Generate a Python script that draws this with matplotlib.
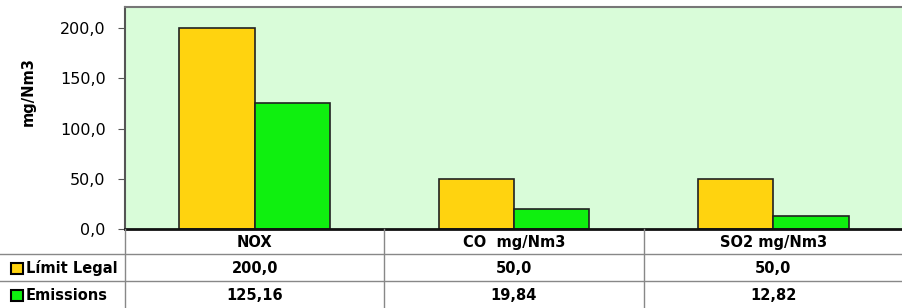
import matplotlib.pyplot as plt
import numpy as np
from matplotlib.patches import Rectangle

plt.rcParams['font.family'] = ['DejaVu Sans']

# dades
categories = ['NOX', 'CO  mg/Nm3', 'SO2 mg/Nm3']
series_names = ['Límit Legal', 'Emissions']
limit_legal = [200.0, 50.0, 50.0]
emissions = [125.16, 19.84, 12.82]
limit_labels = ['200,0', '50,0', '50,0']
emission_labels = ['125,16', '19,84', '12,82']

yellow = '#FFD30F'
green = '#0FF00F'
bg = '#D9FCD9'

W, H = 903, 308
fig = plt.figure(figsize=(W / 100, H / 100), dpi=100)

# zona del gràfic (en píxels)
left, top, bottom = 125, 7, 229
ax = fig.add_axes([left / W, (H - bottom) / H, (W - left) / W, (bottom - top) / H])
ax.set_facecolor(bg)

x = np.arange(len(categories))
w = 0.29
ax.bar(x - w / 2, limit_legal, w, color=yellow, edgecolor='#222222', linewidth=1.2)
ax.bar(x + w / 2, emissions, w, color=green, edgecolor='#222222', linewidth=1.2)

ax.set_xlim(-0.5, len(categories) - 0.5)
ax.set_ylim(0, 221)
ax.set_yticks([0, 50, 100, 150, 200])
ax.set_yticklabels(['0,0', '50,0', '100,0', '150,0', '200,0'], fontsize=11.5)
ax.tick_params(axis='y', length=5, width=0.8, color='#555555', pad=9)
ax.set_xticks([])
ax.spines['right'].set_visible(False)
ax.spines['top'].set_color('#777777')
ax.spines['top'].set_linewidth(1.5)
ax.spines['left'].set_color('#555555')
ax.spines['left'].set_linewidth(1.5)
ax.spines['bottom'].set_color('#111111')
ax.spines['bottom'].set_linewidth(2)

fig.text(28 / W, 1 - 92 / H, 'mg/Nm3', rotation=90, ha='center', va='center',
         fontsize=10.5, fontweight='bold')

# taula de dades
tx = fig.add_axes([0, 0, 1, 1])
tx.set_xlim(0, W)
tx.set_ylim(H, 0)
tx.axis('off')
tx.patch.set_alpha(0)

col_w = (W - left) / len(categories)
rows = [229, 254, 281, 308]
line_c = '#888888'
tx.plot([0, W], [rows[1], rows[1]], color=line_c, lw=1)
tx.plot([0, W], [rows[2], rows[2]], color=line_c, lw=1)
for i in range(len(categories)):
    xv = left + i * col_w
    tx.plot([xv, xv], [rows[0], H], color=line_c, lw=1)

for i, cat in enumerate(categories):
    cx = left + (i + 0.5) * col_w
    tx.text(cx, (rows[0] + rows[1]) / 2 + 1, cat, ha='center', va='center',
            fontsize=10.5, fontweight='bold')
    tx.text(cx, (rows[1] + rows[2]) / 2 + 1, limit_labels[i], ha='center', va='center',
            fontsize=10.5, fontweight='bold')
    tx.text(cx, (rows[2] + rows[3]) / 2 + 1, emission_labels[i], ha='center', va='center',
            fontsize=10.5, fontweight='bold')

for r, (name, col) in enumerate(zip(series_names, [yellow, green])):
    cy = (rows[r + 1] + rows[r + 2]) / 2
    tx.add_patch(Rectangle((11, cy - 5), 12, 11, facecolor=col, edgecolor='black', lw=1.5))
    tx.text(26, cy + 1, name, ha='left', va='center', fontsize=10.5, fontweight='bold')

fig.savefig('out.png', dpi=100)
